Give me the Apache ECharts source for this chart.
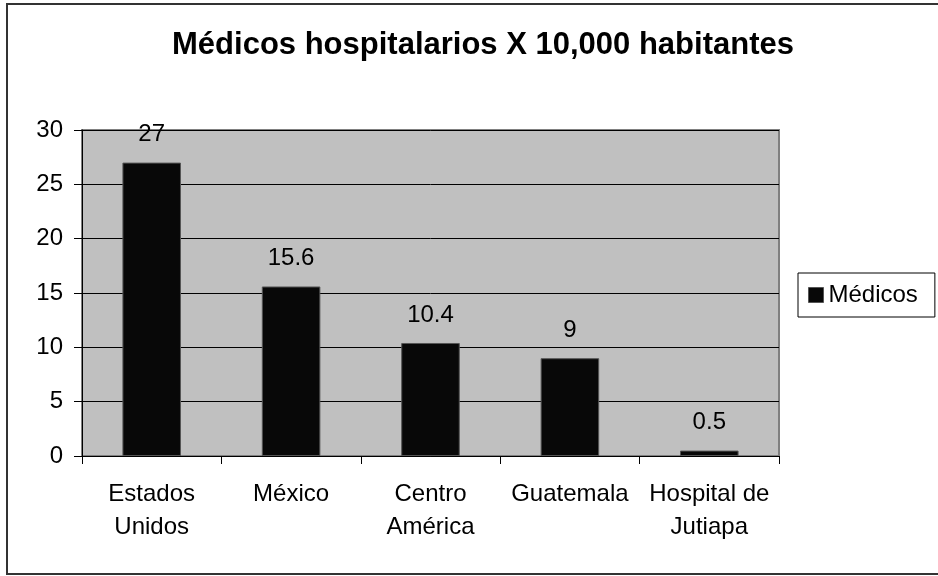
<!DOCTYPE html>
<html>
<head>
<meta charset="utf-8">
<script src="https://cdn.jsdelivr.net/npm/echarts@6/dist/echarts.min.js"></script>
<style>html,body{margin:0;padding:0;background:#fff}#c{width:938px;height:576px}</style>
</head>
<body>
<div id="c"></div>
<script>
const titleText = 'Médicos hospitalarios X 10,000 habitantes';
const categories = ['Estados\nUnidos', 'México', 'Centro\nAmérica', 'Guatemala', 'Hospital de\nJutiapa'];
const seriesName = 'Médicos';
const values = [27, 15.6, 10.4, 9, 0.5];
const yTicks = [0, 5, 10, 15, 20, 25, 30];

const FONT = '"Liberation Sans", Arial, sans-serif';
const chart = echarts.init(document.getElementById('c'), null, {renderer: 'canvas'});
chart.setOption({
  animation: false,
  backgroundColor: '#fff',
  textStyle: {fontFamily: FONT},
  title: {
    text: titleText,
    left: 478, top: 25, textAlign: 'center',
    textStyle: {fontFamily: FONT, fontSize: 31, fontWeight: 'bold', color: '#000'}
  },
  legend: {
    left: 798, top: 273,
    padding: [10, 17, 10, 10],
    borderColor: '#000', borderWidth: 1,
    itemWidth: 15, itemHeight: 15, itemGap: 4,
    icon: 'rect',
    textStyle: {fontFamily: FONT, fontSize: 24, color: '#000'},
    data: [{name: seriesName, itemStyle: {color: '#080808', borderColor: '#555', borderWidth: 1}}]
  },
  graphic: [{
    type: 'rect', silent: true, z: 100,
    shape: {x: 7, y: 4, width: 940, height: 570},
    style: {fill: null, stroke: '#333', lineWidth: 2}
  }],
  grid: {
    left: 82, top: 130, right: 159, bottom: 120,
    show: true, backgroundColor: '#c0c0c0', borderColor: '#808080', borderWidth: 2
  },
  xAxis: {
    type: 'category',
    data: categories,
    boundaryGap: true,
    axisLine: {lineStyle: {color: '#000', width: 1}},
    axisTick: {show: true, length: 8, alignWithLabel: false, lineStyle: {color: '#000'}},
    axisLabel: {fontFamily: FONT, fontSize: 24, color: '#000', margin: 22, lineHeight: 33, interval: 0}
  },
  yAxis: {
    type: 'value',
    min: yTicks[0], max: yTicks[yTicks.length - 1], interval: yTicks[1] - yTicks[0],
    axisLine: {show: true, lineStyle: {color: '#000', width: 1}},
    axisTick: {show: true, length: 8, lineStyle: {color: '#000'}},
    splitLine: {show: true, lineStyle: {color: '#000', width: 1}},
    axisLabel: {fontFamily: FONT, fontSize: 24, color: '#000', margin: 19}
  },
  series: [{
    name: seriesName,
    type: 'bar',
    data: values,
    barWidth: '42%',
    itemStyle: {color: '#080808', borderColor: '#555', borderWidth: 1},
    label: {show: true, position: 'top', distance: 16, fontFamily: FONT, fontSize: 24, color: '#000'}
  }]
});
</script>
</body>
</html>
